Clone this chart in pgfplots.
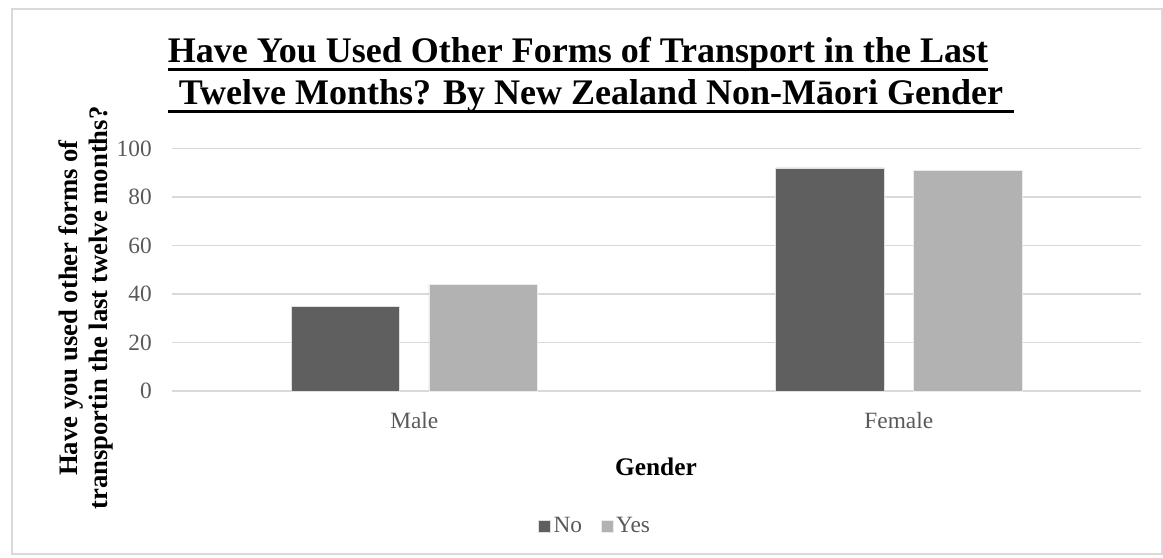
\documentclass[border=0pt]{standalone}
\usepackage{pgfplots}
\pgfplotsset{compat=1.18}
\usepackage{fontspec}
\setmainfont{Liberation Serif}
\definecolor{cNo}{HTML}{5F5F5F}
\definecolor{cYes}{HTML}{B2B2B2}
\definecolor{gridc}{HTML}{D9D9D9}
\definecolor{tickc}{HTML}{595959}
\begin{document}
\begin{tikzpicture}
\path[use as bounding box] (0,0) rectangle (872.25pt,417.75pt);
\draw[gridc, line width=0.9pt] (9pt,2.25pt) rectangle (871.5pt,411pt);
\begin{axis}[
  at={(129pt,124.5pt)}, anchor=south west,
  scale only axis, width=726.75pt, height=181.875pt,
  xmin=-0.5, xmax=1.5, ymin=0, ymax=100,
  ybar=22pt, bar width=81.4pt,
  xtick={0,1}, xticklabels={Male,Female},
  ytick={0,20,40,60,80,100},
  ymajorgrids, grid style={gridc, line width=0.9pt},
  axis line style={draw=none},
  major tick length=0pt,
  tick label style={font=\fontsize{17.5}{21}\selectfont, text=tickc},
  /pgf/number format/assume math mode=true,
  yticklabel style={inner sep=0pt, xshift=-15pt},
  xticklabel style={inner sep=0pt, yshift=-15.5pt},
  legend style={at={(0.437,-0.557)}, anchor=center, draw=none, fill=none,
    legend columns=2, font=\fontsize{17.5}{21}\selectfont, text=tickc,
    /tikz/every even column/.append style={column sep=12pt},
    inner sep=0pt},
  legend image code/.code={\fill[#1] (0pt,-4.5pt) rectangle (9pt,4.5pt);},
  clip=false,
]
\addplot[fill=cNo, draw=black!12, line width=0.5pt] coordinates {(0,35) (1,92)};
\addplot[fill=cYes, draw=black!8, line width=0.5pt] coordinates {(0,44) (1,91)};
\legend{No,Yes}
\end{axis}
% title
\node[anchor=base, inner sep=0pt, font=\bfseries\fontsize{27}{32}\selectfont] (t1) at ({578*0.75pt},{(557-63)*0.75pt}) {Have You Used Other Forms of Transport in the Last};
\draw[line width=2.2pt] ([yshift=-4.8pt]t1.base west) -- ([yshift=-4.8pt]t1.base east);
\node[anchor=base, inner sep=0pt, font=\bfseries\fontsize{27}{32}\selectfont] (t2) at ({591*0.75pt},{(557-105)*0.75pt}) {Twelve Months? By New Zealand Non-Māori Gender};
\draw[line width=2.2pt] ([yshift=-4.8pt,xshift=-8pt]t2.base west) -- ([yshift=-4.8pt,xshift=8pt]t2.base east);
% axis titles
\node[anchor=base, inner sep=0pt, font=\bfseries\fontsize{19}{23}\selectfont] at ({656*0.75pt},{(557-475)*0.75pt}) {Gender};
\node[rotate=90, align=center, inner sep=0pt, font=\bfseries\fontsize{20}{22.5}\selectfont] at ({86*0.75pt},{(557-308)*0.75pt}) {Have you used other forms of\\transportin the last twelve months?};
\end{tikzpicture}
\end{document}
